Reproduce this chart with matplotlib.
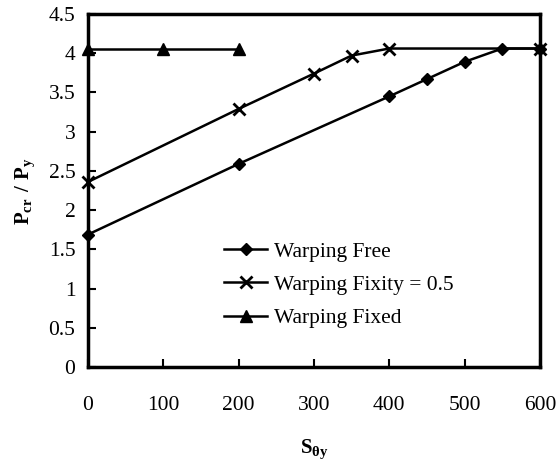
import numpy as np
import matplotlib.pyplot as plt

plt.rcParams['font.family'] = ['Liberation Serif', 'DejaVu Serif']
plt.rcParams['mathtext.fontset'] = 'custom'
plt.rcParams['mathtext.rm'] = 'Liberation Serif'
plt.rcParams['mathtext.bf'] = 'Liberation Serif:bold'

# data
x_free = [0, 200, 400, 450, 500, 550, 600]
y_free = [1.69, 2.59, 3.45, 3.67, 3.89, 4.06, 4.06]
x_half = [0, 200, 300, 350, 400, 600]
y_half = [2.36, 3.29, 3.74, 3.97, 4.06, 4.06]
x_fixed = [0, 100, 200]
y_fixed = [4.06, 4.06, 4.06]
xticks = [0, 100, 200, 300, 400, 500, 600]
yticks = [0, 0.5, 1, 1.5, 2, 2.5, 3, 3.5, 4, 4.5]

fig = plt.figure(figsize=(5.6, 4.66), dpi=100)
ax = fig.add_axes([0.157, 0.212, 0.807, 0.758])

ax.plot(x_free, y_free, color='black', lw=1.8, marker='D', ms=6.5, clip_on=False, label='Warping Free')
ax.plot(x_half, y_half, color='black', lw=1.8, marker='x', ms=9, mew=2, clip_on=False, label='Warping Fixity = 0.5')
ax.plot(x_fixed, y_fixed, color='black', lw=1.8, marker='^', ms=8, clip_on=False, label='Warping Fixed')

ax.set_xlim(0, 600)
ax.set_ylim(0, 4.5)
ax.set_xticks(xticks)
ax.set_yticks(yticks)
ax.set_yticklabels([f'{v:g}' for v in yticks])
ax.tick_params(axis='both', direction='in', length=6, width=1.5, labelsize=15.5)
ax.tick_params(axis='x', pad=21)
ax.tick_params(axis='y', pad=9)
for s in ax.spines.values():
    s.set_linewidth(2.5)

ax.set_xlabel(r'$\mathbf{S_{\theta y}}$', fontsize=15, labelpad=16)
ax.set_ylabel(r'$\mathbf{P_{cr}\ /\ P_{y}}$', fontsize=15, labelpad=8)

ax.legend(loc='lower left', bbox_to_anchor=(0.259, 0.055), frameon=False, fontsize=15.5,
          handlelength=2.0, handletextpad=0.3, labelspacing=0.62)

fig.savefig('out.png', dpi=100)
